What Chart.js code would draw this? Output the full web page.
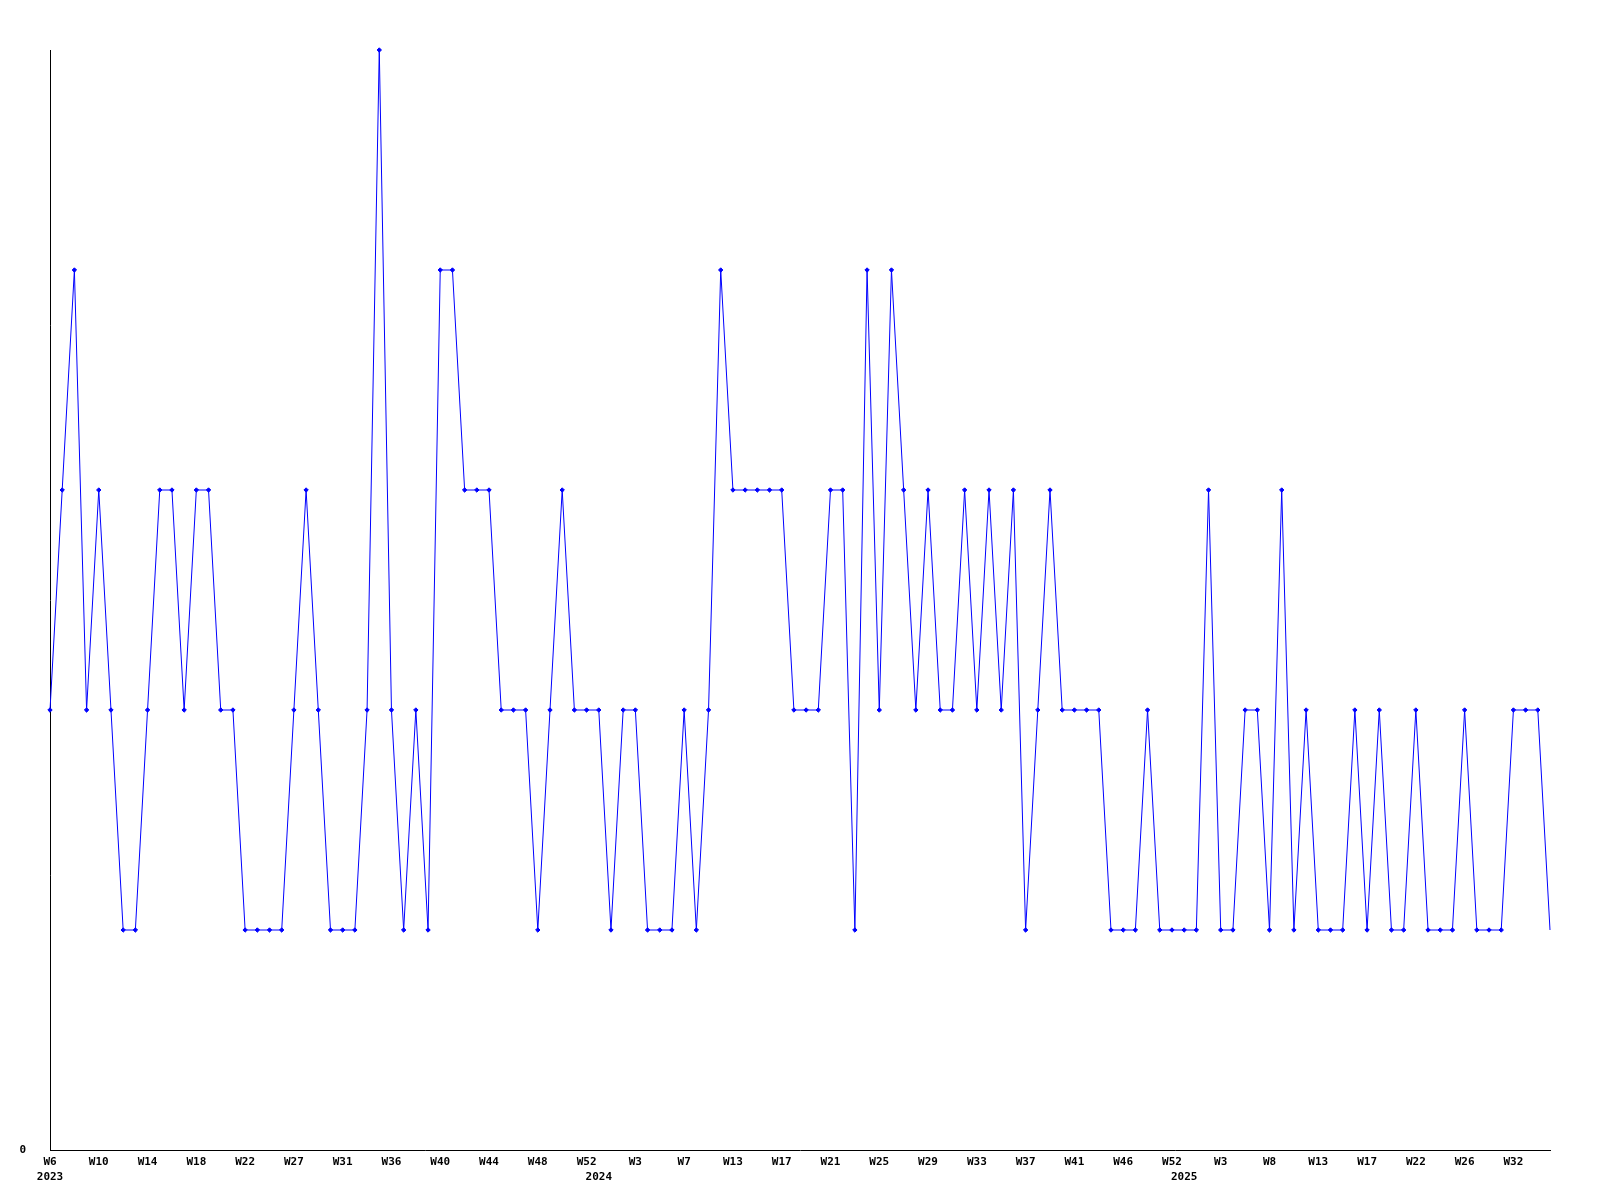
<!DOCTYPE html>
<html>
<head>
<meta charset="utf-8">
<script src="https://cdn.jsdelivr.net/npm/chart.js@4/dist/chart.umd.min.js"></script>
<style>
  html, body { margin: 0; padding: 0; background: #ffffff; }
  #wrap { width: 1600px; height: 1200px; }
</style>
</head>
<body>
<div id="wrap"><canvas id="c" width="1600" height="1200"></canvas></div>
<script>
// ---- data ----
const years = ['2023', '2024', '2025'];
const weeks2023 = [6,7,8,9,10,11,12,13,14,15,16,17,18,19,20,21,22,23,24,25,27,28,29,30,31,32,33,34,36,37,38,39,40,41,42,43,44,45,46,47,48,49,50,51,52];
const weeks2024 = [0,1,2,3,4,5,6,7,9,10,11,13,14,15,16,17,18,19,20,21,22,23,24,25,26,27,28,29,30,31,32,33,34,35,36,37,38,39,40,41,42,43,45,46,47,48,50,52];
const weeks2025 = [0,1,2,3,4,5,7,8,9,10,11,13,14,15,16,17,18,19,21,22,23,24,25,26,27,29,30,32,33,34,35];
const values = [
  2,3,4,2,3,2,1,1,2,3,
  3,2,3,3,2,2,1,1,1,1,
  2,3,2,1,1,1,2,5,2,1,
  2,1,4,4,3,3,3,2,2,2,
  1,2,3,2,2,2,1,2,2,1,
  1,1,2,1,2,4,3,3,3,3,
  3,2,2,2,3,3,1,4,2,4,
  3,2,3,2,2,3,2,3,2,3,
  1,2,3,2,2,2,2,1,1,1,
  2,1,1,1,1,3,1,1,2,2,
  1,3,1,2,1,1,1,2,1,2,
  1,1,2,1,1,1,2,1,1,1,
  2,2,2,1
];
const yTickLabels = ['0'];
const tickEvery = 4;

// ---- build categories ----
const weekLists = [weeks2023, weeks2024, weeks2025];
const weekLabels = [];
const yearOfPoint = [];
weekLists.forEach((list, yi) => {
  list.forEach(w => { weekLabels.push('W' + w); yearOfPoint.push(years[yi]); });
});

const FONT = { family: '"DejaVu Sans Mono", "Liberation Mono", monospace', size: 11, weight: 'bold' };

const radii = values.map((v, i) => i === values.length - 1 ? 0 : 2.2);

new Chart(document.getElementById('c'), {
  type: 'line',
  data: {
    labels: weekLabels,
    datasets: [{
      data: values,
      borderColor: '#0000ff',
      backgroundColor: '#0000ff',
      borderWidth: 1,
      tension: 0,
      pointStyle: 'rectRot',
      pointRadius: radii,
      pointBackgroundColor: '#0000ff',
      pointBorderColor: '#0000ff',
      pointBorderWidth: 1,
      clip: false,
      fill: false
    }]
  },
  options: {
    responsive: false,
    animation: false,
    devicePixelRatio: 1,
    layout: { padding: { top: 50, right: 50, left: 0, bottom: 0 } },
    plugins: { legend: { display: false }, tooltip: { enabled: false }, title: { display: false } },
    scales: {
      x: {
        type: 'category',
        position: 'bottom',
        weight: 0,
        offset: false,
        grid: { display: false, drawTicks: false },
        border: { display: true, color: '#000000', width: 1 },
        afterFit: s => { s.height = 20; },
        ticks: {
          autoSkip: false, maxRotation: 0, minRotation: 0, padding: 6,
          color: '#000000', font: FONT,
          callback: function(v, i) { return i % tickEvery === 0 ? weekLabels[i] : ''; }
        }
      },
      x2: {
        type: 'category',
        position: 'bottom',
        weight: 1,
        offset: false,
        labels: weekLabels,
        grid: { display: false, drawTicks: false },
        border: { display: false },
        afterFit: s => { s.height = 30; },
        ticks: {
          autoSkip: false, maxRotation: 0, minRotation: 0, padding: 1,
          color: '#000000', font: FONT,
          callback: function(v, i) { return (i === 0 || yearOfPoint[i] !== yearOfPoint[i - 1]) ? yearOfPoint[i] : ''; }
        }
      },
      y: {
        min: 0, max: 5,
        grid: { display: false, drawTicks: false },
        border: { display: true, color: '#000000', width: 1 },
        afterFit: s => { s.width = 50; },
        ticks: {
          stepSize: 1, padding: 24, color: '#000000', font: FONT,
          callback: function(v) { return v === 0 ? yTickLabels[0] : ''; }
        }
      }
    }
  }
});
</script>
</body>
</html>
